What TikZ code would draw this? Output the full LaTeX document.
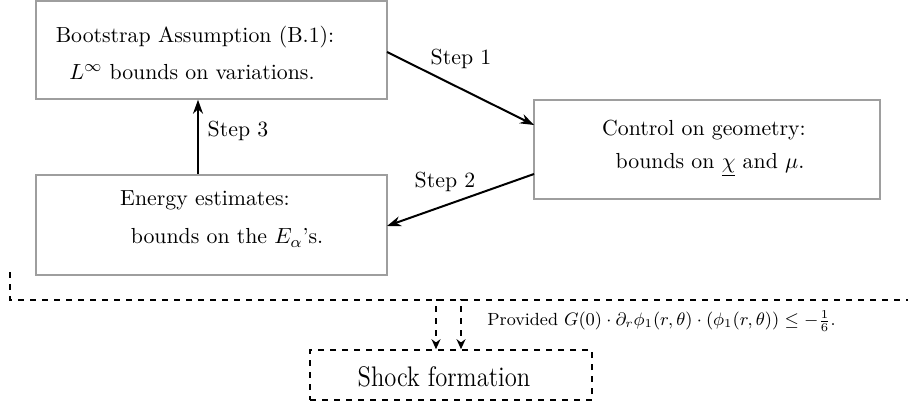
\documentclass[tikz,border=0pt]{standalone}
\usetikzlibrary{arrows.meta}
\begin{document}
\begin{tikzpicture}[x=0.5pt,y=-0.5pt,
  box/.style={draw=black!38,line width=0.75pt,inner sep=0pt},
  txt/.style={inner sep=0pt,font=\fontsize{10.9}{13}\selectfont},
  arr/.style={line width=1pt,-{Stealth[length=7pt,width=5pt]}},
  darr/.style={line width=0.8pt,dash pattern=on 3pt off 3pt,-{Stealth[length=5pt,width=4.5pt]}},
  dline/.style={line width=0.8pt,dash pattern=on 3pt off 3pt},
  lbl/.style={inner sep=0pt,font=\fontsize{10.9}{13}\selectfont}]
\useasboundingbox (0,0) rectangle (908,406);
% boxes
\node[box,minimum width=175.5pt,minimum height=49pt] (A) at (211.5,50) {};
\node[box,minimum width=173pt,minimum height=49.5pt] (B) at (707,149.5) {};
\node[box,minimum width=175.5pt,minimum height=50pt] (C) at (211.5,225) {};
% texts
\node[txt] (a1) at (195,37) {Bootstrap Assumption (B.1):};
\node[txt] (a2) at (192,72) {$L^\infty$ bounds on variations.};
\node[txt] (b1) at (704,130) {Control on geometry:};
\node[txt] (b2) at (710,165) {bounds on $\underline{\chi}$ and $\mu$.};
\node[txt] (c1) at (205,200) {Energy estimates:};
\node[txt] (c2) at (227,238) {bounds on the $E_\alpha$'s.};
% arrows
\coordinate (s1a) at (387,52);
\coordinate (s1b) at (534,125);
\coordinate (s2a) at (534,174);
\coordinate (s2b) at (387,226);
\draw[arr] (s1a) -- (s1b);
\draw[arr] (s2a) -- (s2b);
\draw[arr] (C.north -| 198,0) -- (A.south -| 198,0);
\node[lbl] (l1) at (461,59) {Step 1};
\node[lbl] (l2) at (445,182) {Step 2};
\node[lbl] (l3) at (238,131) {Step 3};
% dashed region
\coordinate (d0) at (10,272);
\coordinate (d1) at (10,300);
\coordinate (d2) at (908,300);
\draw[dline] (d0) -- (d1) -- (d2);
% shock box
\node[draw,dline,minimum width=141pt,minimum height=25pt,inner sep=0pt] (S) at (451,375) {};
\node[inner sep=0pt,font=\fontsize{12.3}{14}\selectfont,yscale=1.15] (st) at (444,377) {Shock formation};
\coordinate (p1) at (436,300);
\coordinate (p2) at (461,300);
\draw[darr] ([xshift=3pt]p1) -- (p1) -- (p1 |- S.north);
\draw[darr] ([xshift=3pt]p2) -- (p2) -- (p2 |- S.north);
\node[anchor=west,inner sep=0pt,font=\fontsize{8.8}{10}\selectfont] (prov) at (487,321) {Provided $G(0)\cdot\partial_r\phi_1(r,\theta)\cdot(\phi_1(r,\theta))\leq-{\textstyle\frac{1}{6}}$.};
\end{tikzpicture}
\end{document}
